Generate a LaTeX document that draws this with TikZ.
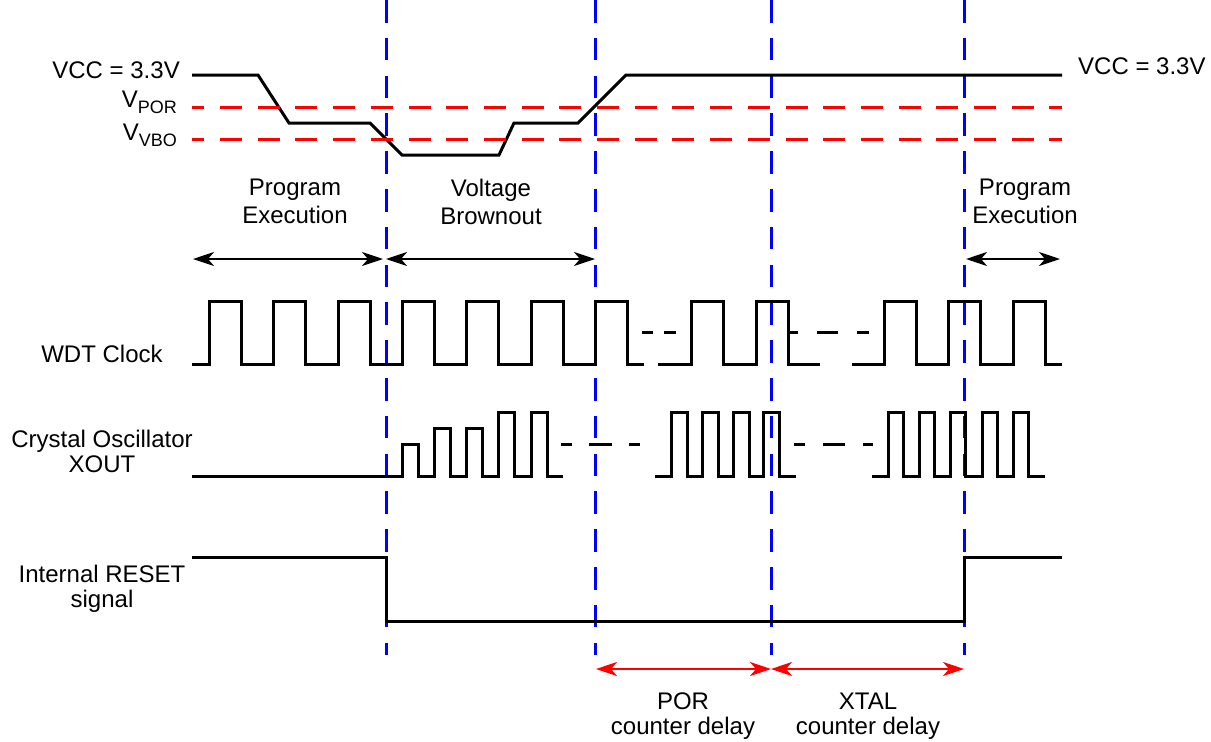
\documentclass[tikz,border=0pt]{standalone}
\usepackage{fontspec}
\setmainfont{Liberation Sans}
\usetikzlibrary{arrows.meta}

\begin{document}
\begin{tikzpicture}[x=1pt,y=-1pt,
  every node/.style={inner sep=0pt,font=\fontsize{24}{25}\selectfont},
  txt/.style={align=center,anchor=north},
  wide/.style={txt,font=\fontsize{24}{28}\selectfont},
  wave/.style={line width=3pt},
  thresh/.style={red,line width=3pt,dash pattern=on 22pt off 15.7pt,dash phase=9.7pt},
  cut/.style={blue,line width=3pt,dash pattern=on 22.5pt off 15.3pt},
  span/.style={line width=2pt,{Stealth[length=21pt,width=14pt,inset=6pt]}-{Stealth[length=21pt,width=14pt,inset=6pt]}},
  delay/.style={span,red}]
  \useasboundingbox (0,0) rectangle (1211,742);

  % phase boundaries
  \foreach \x in {386,595,771,964}
    \draw[cut] (\x,0) -- (\x,655);

  % labels
  \node[anchor=base east] (vcc)  at (180,78)  {VCC = 3.3V};
  \node[anchor=base east] (vpor) at (177,107) {V\raisebox{-6pt}{\fontsize{18}{18}\selectfont POR}};
  \node[anchor=base east] (vvbo) at (177,140) {V\raisebox{-6pt}{\fontsize{18}{18}\selectfont VBO}};
  \node[anchor=base west] (vccr) at (1078,74) {VCC = 3.3V};
  \node[wide] (exec1) at (295,179)  {Program\\Execution};
  \node[wide] (brown) at (491,179)  {Voltage\\Brownout};
  \node[wide] (exec2) at (1025,179) {Program\\Execution};
  \node[anchor=base] (wdt) at (102,362) {WDT Clock};
  \node[txt] (xtal) at (102,430) {Crystal Oscillator\\XOUT};
  \node[txt] (rst)  at (102,565) {Internal RESET\\signal};
  \node[txt] (por)  at (683,693) {POR\\counter delay};
  \node[txt] (xdel) at (868,693) {XTAL\\counter delay};

  % supply voltage
  \draw[wave] (192,75) -- (258,75) -- (289,123) -- (370,123) -- (402,155)
    -- (499,155) -- (514,123) -- (578,123) -- (626,75) -- (1062,75);

  % WDT clock
  \draw[wave] (192,364) foreach \r in {209,273,338,402,466,531,595}
    { -- (\r,364) -- (\r,301) -- (\r+32.5,301) -- (\r+32.5,364) } -- (644,364);
  \draw[wave] (658,364) foreach \r in {691,756}
    { -- (\r,364) -- (\r,301) -- (\r+32,301) -- (\r+32,364) } -- (820,364);
  \draw[wave] (852,364) foreach \r in {884,948,1013}
    { -- (\r,364) -- (\r,301) -- (\r+32,301) -- (\r+32,364) } -- (1062,364);
  \foreach \a/\b in {642/653,664/676,787/798,817/838,857/869}
    \draw[wave] (\a,332) -- (\b,332);

  % crystal oscillator
  \draw[wave] (192,476) foreach \r/\h in {402/444,434/428,466/428,498/412,531/412}
    { -- (\r,476) -- (\r,\h) -- (\r+16,\h) -- (\r+16,476) } -- (563,476);
  \draw[wave] (655,476) foreach \r in {671,702,733,763}
    { -- (\r,476) -- (\r,412) -- (\r+16,412) -- (\r+16,476) } -- (796,476);
  \draw[wave] (872,476) foreach \r in {888,919,950,982,1013}
    { -- (\r,476) -- (\r,412) -- (\r+15.5,412) -- (\r+15.5,476) } -- (1045,476);
  \foreach \a/\b in {561/572,589/612,629/640,794/805,823/845,863/873}
    \draw[wave] (\a,444) -- (\b,444);

  % internal reset
  \draw[wave] (192,557) -- (386,557) -- (386,621) -- (964,621) -- (964,557) -- (1062,557);

  % thresholds
  \draw[thresh] (192,107) -- (1062,107);
  \draw[thresh] (192,139) -- (1062,139);

  % spans
  \coordinate (a1) at (193,259);
  \coordinate (a2) at (383,259);
  \coordinate (a3) at (386,259);
  \coordinate (a4) at (595,259);
  \coordinate (a5) at (966,259);
  \coordinate (a6) at (1060,259);
  \coordinate (d1) at (596,669);
  \coordinate (d2) at (771,669);
  \coordinate (d3) at (964,669);
  \draw[span] (a1) -- (a2);
  \draw[span] (a3) -- (a4);
  \draw[span] (a5) -- (a6);
  \draw[delay] (d1) -- (d2);
  \draw[delay] (d2) -- (d3);
\end{tikzpicture}
\end{document}
